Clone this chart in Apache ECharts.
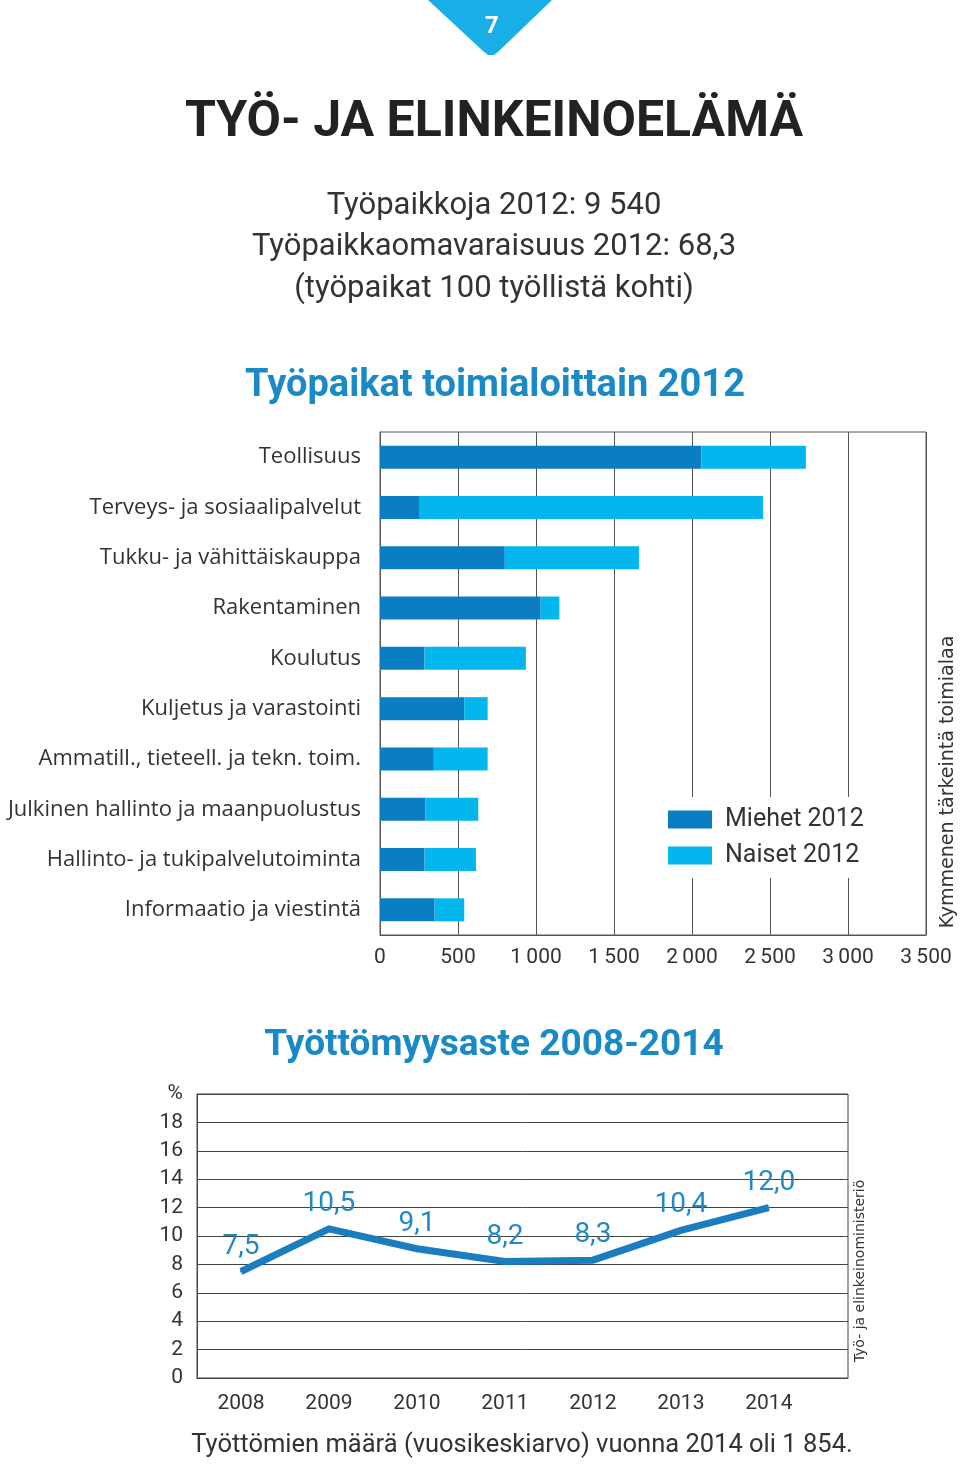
<!DOCTYPE html>
<html>
<head>
<meta charset="utf-8">
<script src="https://cdn.jsdelivr.net/npm/echarts@6/dist/echarts.min.js"></script>
<style>html,body{margin:0;padding:0;background:#fff}#c{width:960px;height:1465px}</style>
</head>
<body>
<div id="c"></div>
<script>
const categories = ['Teollisuus','Terveys- ja sosiaalipalvelut','Tukku- ja vähittäiskauppa','Rakentaminen','Koulutus','Kuljetus ja varastointi','Ammatill., tieteell. ja tekn. toim.','Julkinen hallinto ja maanpuolustus','Hallinto- ja tukipalvelutoiminta','Informaatio ja viestintä'];
const men = [2060, 250, 800, 1030, 285, 540, 345, 290, 285, 350];
const women = [670, 2205, 860, 120, 650, 150, 345, 340, 330, 190];
const years = [2008, 2009, 2010, 2011, 2012, 2013, 2014];
const rate = [7.5, 10.5, 9.1, 8.2, 8.3, 10.4, 12.0];

const FONT = 'Roboto';
const DARK = '#0b7dc2', LIGHT = '#03b6ee', LINE = '#1a7dc0', TXT = '#333';

const chart = echarts.init(document.getElementById('c'));
function txt(text, x, y, size, opts) {
  opts = opts || {};
  return {
    type: 'text', x: x, y: y, rotation: opts.rotation || 0, z: 100,
    style: {
      text: text, fill: opts.color || TXT, fontSize: size,
      fontFamily: opts.family || FONT, fontWeight: opts.weight || 'normal',
      align: 'center', verticalAlign: 'middle'
    }
  };
}
chart.setOption({
  animation: false,
  backgroundColor: '#fff',
  textStyle: { fontFamily: FONT },
  graphic: [
    { type: 'polygon', z: 100, shape: { points: [[428,0],[552,0],[499,51],[494,55],[488,55],[483,51]] }, style: { fill: '#19aee6' } },
    txt('7', 492, 27, 24, { color: '#fff', weight: 'bold' }),
    txt('TYÖ- JA ELINKEINOELÄMÄ', 494, 123, 50, { weight: 'bold', color: '#222' }),
    txt('Työpaikkoja 2012: 9 540', 494, 206, 31),
    txt('Työpaikkaomavaraisuus 2012: 68,3', 494, 247, 31),
    txt('(työpaikat 100 työllistä kohti)', 494, 289, 31),
    txt('Työpaikat toimialoittain 2012', 495, 386, 38, { weight: 'bold', color: '#1a8ac6' }),
    txt('Työttömyysaste 2008-2014', 494, 1046, 37, { weight: 'bold', color: '#1a8ac6' }),
    txt('Työttömien määrä (vuosikeskiarvo) vuonna 2014 oli 1 854.', 522, 1446, 25.5),
    txt('Kymmenen tärkeintä toimialaa', 948, 782, 19, { family: 'DejaVu Sans', rotation: Math.PI / 2 }),
    txt('Työ- ja elinkeinoministeriö', 860, 1271, 14, { family: 'DejaVu Sans', rotation: Math.PI / 2 })
  ],
  legend: {
    data: ['Miehet 2012', 'Naiset 2012'],
    orient: 'vertical', left: 656, top: 797,
    backgroundColor: '#fff', padding: [10, 12],
    icon: 'rect', itemWidth: 44, itemHeight: 18, itemGap: 11,
    textStyle: { fontSize: 25, color: TXT, fontFamily: FONT, padding: [0, 0, 0, 8] }
  },
  grid: [
    { left: 380, right: 34, top: 432, height: 503, show: true, borderColor: '#555', borderWidth: 1 },
    { left: 197, right: 112, top: 1094, height: 284, show: true, borderColor: '#444', borderWidth: 1 }
  ],
  xAxis: [
    { gridIndex: 0, type: 'value', min: 0, max: 3500, interval: 500,
      axisLine: { show: true, lineStyle: { color: '#555' } }, axisTick: { show: false },
      splitLine: { show: true, lineStyle: { color: '#555', width: 1 } },
      axisLabel: { fontSize: 21, color: TXT, margin: 12,
        formatter: v => v >= 1000 ? Math.floor(v / 1000) + '\u2009' + String(v % 1000).padStart(3, '0') : String(v) } },
    { gridIndex: 1, type: 'value', min: 2007.5, max: 2014.9,
      axisLine: { show: true, lineStyle: { color: '#444' } }, axisTick: { show: false },
      splitLine: { show: false },
      axisLabel: { fontSize: 21, color: TXT, margin: 15, customValues: years, formatter: v => String(v) } }
  ],
  yAxis: [
    { gridIndex: 0, type: 'category', data: categories, inverse: true,
      axisLine: { show: true, lineStyle: { color: '#555' } }, axisTick: { show: false },
      axisLabel: { fontSize: 22, color: TXT, margin: 19, fontFamily: 'Open Sans' } },
    { gridIndex: 1, type: 'value', min: 0, max: 20, interval: 2,
      axisLine: { show: true, lineStyle: { color: '#444' } }, axisTick: { show: false },
      splitLine: { show: true, lineStyle: { color: '#444', width: 1 } },
      axisLabel: { fontSize: 21, color: TXT, margin: 14, formatter: v => v === 20 ? '%' : String(v) } }
  ],
  series: [
    { name: 'Miehet 2012', type: 'bar', stack: 'a', xAxisIndex: 0, yAxisIndex: 0, data: men, barWidth: 23, itemStyle: { color: DARK } },
    { name: 'Naiset 2012', type: 'bar', stack: 'a', xAxisIndex: 0, yAxisIndex: 0, data: women, barWidth: 23, itemStyle: { color: LIGHT } },
    { name: 'Työttömyysaste', type: 'line', xAxisIndex: 1, yAxisIndex: 1,
      data: years.map((y, i) => [y, rate[i]]), showSymbol: true, symbol: 'circle', symbolSize: 2,
      itemStyle: { color: LINE },
      lineStyle: { color: LINE, width: 7, join: 'miter' },
      label: { show: true, position: 'top', distance: 10, fontSize: 28, color: '#2389c6',
        formatter: p => p.value[1].toFixed(1).replace('.', ',') } }
  ]
});
</script>
</body>
</html>
